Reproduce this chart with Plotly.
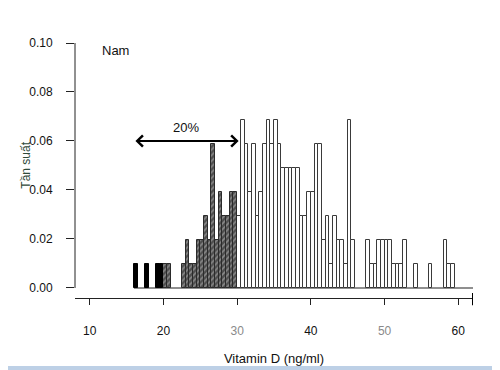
import plotly.graph_objects as go

# ---------------- data ----------------
bin_width = 0.5

# deficiency (< 20 ng/ml) - black bars, left edges and densities
black_left = [16.0, 17.5, 19.0, 19.5]
black_dens = [0.0098, 0.0098, 0.0098, 0.0098]

# insufficiency (20-30 ng/ml) - hatched bars
hatch_left = [20.0, 20.5, 22.5, 23.0, 23.5, 24.0, 24.5, 25.0, 25.5, 26.0,
              26.5, 27.0, 27.5, 28.0, 28.5, 29.0, 29.5]
hatch_dens = [0.0098, 0.0098, 0.0098, 0.0196, 0.0098, 0.0098, 0.0196, 0.0196,
              0.0294, 0.0196, 0.0588, 0.0196, 0.0392, 0.0294, 0.0294, 0.0392,
              0.0392]

# sufficiency (>= 30 ng/ml) - white bars
white_left = [30.0, 30.5, 31.0, 31.5, 32.0, 32.5, 33.0, 33.5, 34.0, 34.5,
              35.0, 35.5, 36.0, 36.5, 37.0, 37.5, 38.0, 38.5, 39.0, 39.5,
              40.0, 40.5, 41.0, 41.5, 42.0, 42.5, 43.0, 43.5, 44.0, 44.5,
              45.0, 45.5, 47.5, 48.0, 48.5, 49.0, 49.5, 50.0, 50.5, 51.0,
              51.5, 52.0, 52.5, 54.0, 56.0, 58.0, 58.5, 59.0]
white_dens = [0.0294, 0.0686, 0.0588, 0.0392, 0.0588, 0.0294, 0.0392, 0.0588,
              0.0686, 0.0588, 0.0686, 0.0588, 0.0490, 0.0490, 0.0490, 0.0490,
              0.0490, 0.0294, 0.0294, 0.0392, 0.0392, 0.0588, 0.0588, 0.0196,
              0.0294, 0.0098, 0.0294, 0.0196, 0.0196, 0.0098, 0.0686, 0.0196,
              0.0196, 0.0098, 0.0098, 0.0196, 0.0196, 0.0196, 0.0196, 0.0098,
              0.0098, 0.0098, 0.0196, 0.0098, 0.0098, 0.0196, 0.0098, 0.0098]

x_ticks = [10, 20, 30, 40, 50, 60]
x_tick_text = ["10", "20", "<span style='color:#8a8a8a'>30</span>", "40",
               "<span style='color:#8a8a8a'>50</span>", "60"]
y_ticks = [0.00, 0.02, 0.04, 0.06, 0.08, 0.10]
y_tick_text = ["0.00", "0.02", "0.04", "0.06", "0.08", "0.10"]

x_range = [8, 62]
y_range = [-0.0041, 0.1]

arrow_from, arrow_to, arrow_level = 16.0, 30.2, 0.06
arrow_label = "20%"
group_label = "Nam"
x_title = "Vitamin D (ng/ml)"
y_title = "Tần suất"

FONT = "Liberation Sans, Arial, sans-serif"


def centers(lefts):
    return [v + bin_width / 2 for v in lefts]


fig = go.Figure()
fig.add_trace(go.Bar(
    x=centers(white_left), y=white_dens, width=bin_width,
    marker=dict(color="white", line=dict(color="#3a3a3a", width=1)),
    hoverinfo="x+y", showlegend=False))
fig.add_trace(go.Bar(
    x=centers(hatch_left), y=hatch_dens, width=bin_width,
    marker=dict(color="#4d4d4d", line=dict(color="#2a2a2a", width=1),
                pattern=dict(shape="/", bgcolor="#4d4d4d", fgcolor="#c4c4c4",
                             size=4, solidity=0.4)),
    hoverinfo="x+y", showlegend=False))
fig.add_trace(go.Bar(
    x=centers(black_left), y=black_dens, width=bin_width,
    marker=dict(color="black", line=dict(color="black", width=1)),
    hoverinfo="x+y", showlegend=False))

shapes = [
    # baseline under the bars
    dict(type="line", xref="x", yref="y", x0=min(black_left), x1=x_range[1],
         y0=0, y1=0, line=dict(color="#6a6a6a", width=1.5), layer="below"),
    # y axis line from 0 to 0.10
    dict(type="line", xref="paper", yref="y", x0=0, x1=0, y0=y_ticks[0],
         y1=y_ticks[-1], line=dict(color="#222", width=1)),
    # thick end mark of x axis
    dict(type="line", xref="x", yref="paper", x0=x_range[1], x1=x_range[1],
         y0=0.02, y1=-0.028, line=dict(color="black", width=2)),
    # pale blue strip at the bottom of the picture
    dict(type="rect", xref="paper", yref="paper", x0=-0.21, x1=1.09,
         y0=-0.2667, y1=-0.30, fillcolor="#bdd0e6", line=dict(width=0)),
]

annotations = [
    dict(xref="x", yref="y", x=arrow_to, y=arrow_level, ax=arrow_from,
         ay=arrow_level, axref="x", ayref="y", text="", showarrow=True,
         arrowhead=4, startarrowhead=4, arrowside="end+start", arrowsize=1.1,
         startarrowsize=1.1, arrowwidth=2, arrowcolor="black"),
    dict(xref="x", yref="y", x=(arrow_from + arrow_to) / 2, y=arrow_level,
         yshift=13, text=arrow_label, showarrow=False,
         font=dict(family=FONT, size=13, color="#111")),
    dict(xref="paper", yref="paper", x=0.063, y=0.97, xanchor="left",
         yanchor="middle", text=group_label, showarrow=False,
         font=dict(family=FONT, size=13, color="#111")),
    dict(xref="paper", yref="paper", x=-0.145, y=0.52, text=y_title,
         textangle=-90, showarrow=False,
         font=dict(family=FONT, size=12, color="#2f4a3a")),
]

# the page body adds an 8 px offset, so margins are reduced by 8 px
fig.update_layout(
    width=500, height=370,
    margin=dict(l=67, r=35, t=35, b=80),
    paper_bgcolor="white", plot_bgcolor="white",
    barmode="overlay", bargap=0,
    font=dict(family=FONT, size=12, color="#111"),
    shapes=shapes, annotations=annotations,
    xaxis=dict(range=x_range, tickmode="array", tickvals=x_ticks,
               ticktext=x_tick_text, showgrid=False, zeroline=False,
               showline=True, linecolor="#222", linewidth=1,
               ticks="outside", ticklen=6, tickcolor="#222",
               ticklabelstandoff=16, automargin=False,
               tickfont=dict(family=FONT, size=12, color="#111"),
               title=dict(text=x_title, standoff=16,
                          font=dict(family=FONT, size=13, color="#111"))),
    yaxis=dict(range=y_range, tickmode="array", tickvals=y_ticks,
               ticktext=y_tick_text, showgrid=False, zeroline=False,
               showline=False, ticks="outside", ticklen=8, automargin=False,
               tickcolor="#222", ticklabelstandoff=11,
               tickfont=dict(family=FONT, size=12, color="#111")),
)

fig.write_html("out.html")
